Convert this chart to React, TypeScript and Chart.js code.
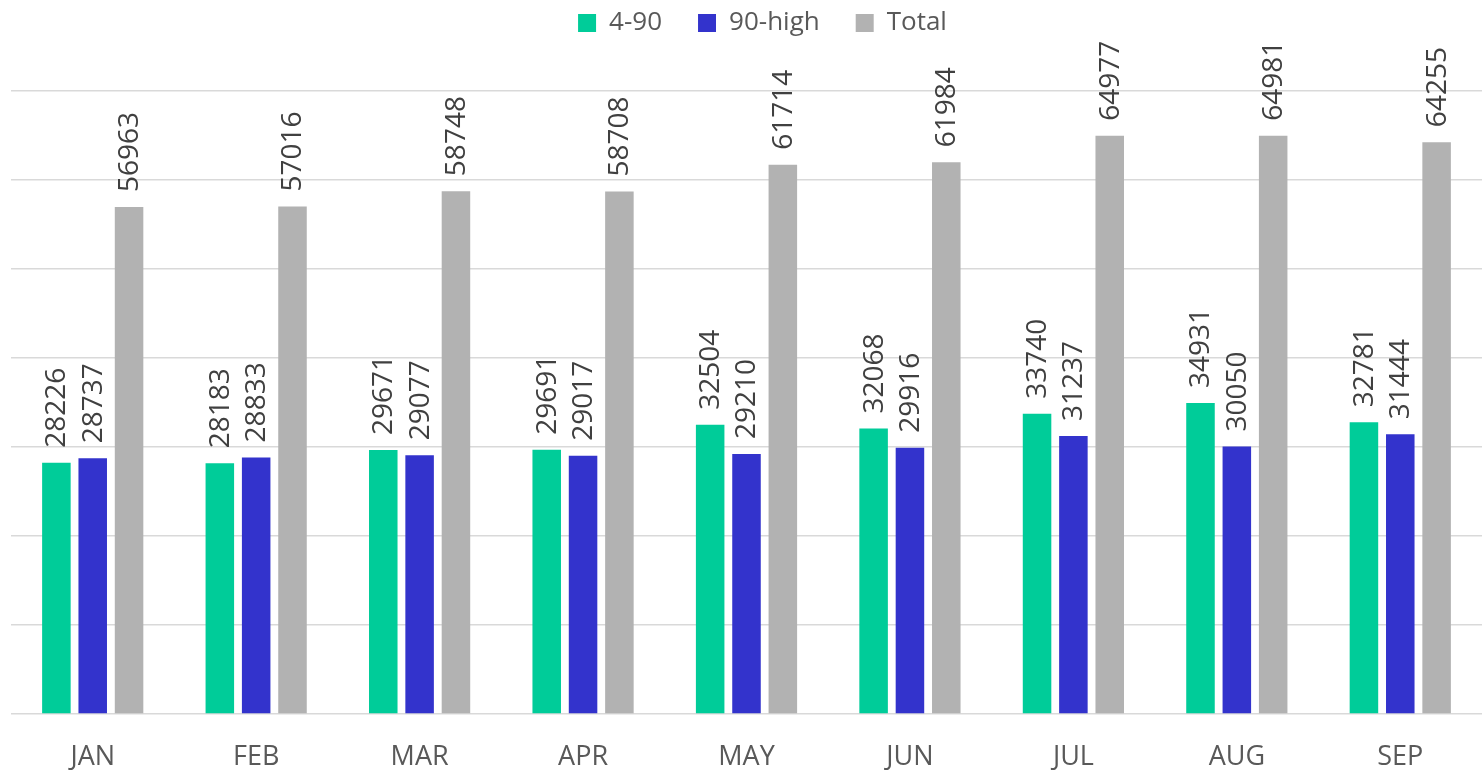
import React, { useEffect, useRef } from "react";
import { Chart, registerables } from "chart.js";

Chart.register(...registerables);

const categories = ["JAN", "FEB", "MAR", "APR", "MAY", "JUN", "JUL", "AUG", "SEP"];
const series490 = [28226, 28183, 29671, 29691, 32504, 32068, 33740, 34931, 32781];
const series90high = [28737, 28833, 29077, 29017, 29210, 29916, 31237, 30050, 31444];
const seriesTotal = [56963, 57016, 58748, 58708, 61714, 61984, 64977, 64981, 64255];
const seriesNames = ["4-90", "90-high", "Total"];
const seriesColors = ["#00CC99", "#3333CC", "#B2B2B2"];

const FONT = '"Open Sans", "Noto Sans", sans-serif';

export default function App() {
  const ref = useRef<HTMLCanvasElement | null>(null);

  useEffect(() => {
    if (!ref.current) return;
    const labelPlugin = {
      id: "barLabels",
      afterDatasetsDraw(chart: any) {
        const ctx = chart.ctx;
        chart.data.datasets.forEach((ds: any, i: number) => {
          const meta = chart.getDatasetMeta(i);
          meta.data.forEach((bar: any, j: number) => {
            ctx.save();
            ctx.translate(bar.x + 1, bar.y - 15);
            ctx.rotate(-Math.PI / 2);
            ctx.font = `28px ${FONT}`;
            ctx.fillStyle = "#404040";
            ctx.textAlign = "left";
            ctx.textBaseline = "middle";
            ctx.fillText(String(ds.data[j]), 0, 0);
            ctx.restore();
          });
        });
      },
    };
    const legendFix = {
      id: "legendFix",
      beforeUpdate(chart: any) {
        const l = chart.legend;
        if (l && !l.__patched) {
          const fit = l.fit;
          l.fit = function () {
            fit.call(this);
            this.height = 91;
          };
          const draw = l.draw;
          l.draw = function () {
            const ctx = this.ctx;
            ctx.save();
            ctx.translate(16, -26);
            draw.call(this);
            ctx.restore();
          };
          l.__patched = true;
        }
      },
    };
    const data = [series490, series90high, seriesTotal];
    const chart = new Chart(ref.current, {
      type: "bar",
      data: {
        labels: categories,
        datasets: seriesNames.map((n, i) => ({
          label: n,
          data: data[i],
          backgroundColor: seriesColors[i],
          borderWidth: 0,
          barPercentage: 0.785,
          categoryPercentage: 0.667,
        })),
      },
      options: {
        animation: false,
        responsive: true,
        maintainAspectRatio: false,
        layout: { padding: { left: 11, right: 0, top: 0, bottom: 0 } },
        plugins: {
          tooltip: { enabled: false },
          legend: {
            position: "top",
            labels: {
              font: { family: FONT, size: 26 },
              color: "#595959",
              boxWidth: 18,
              boxHeight: 18,
              padding: 36,
            },
          },
        },
        scales: {
          x: {
            grid: { display: false },
            border: { display: false },
            ticks: {
              font: { family: FONT, size: 27 },
              color: "#595959",
              padding: 19,
            },
            afterFit(scale: any) {
              scale.height = 57;
            },
          },
          y: {
            min: 0,
            max: 70000,
            ticks: { display: false, stepSize: 10000 },
            border: { display: false },
            grid: { color: "#D9D9D9", lineWidth: 1.5, drawTicks: false },
            afterFit(scale: any) {
              scale.width = 0;
            },
          },
        },
      },
      plugins: [labelPlugin, legendFix],
    });
    return () => chart.destroy();
  }, []);

  return (
    <div style={{ position: "absolute", left: 0, top: 0, width: 1482, height: 771, background: "#fff" }}>
      <canvas ref={ref} />
    </div>
  );
}
